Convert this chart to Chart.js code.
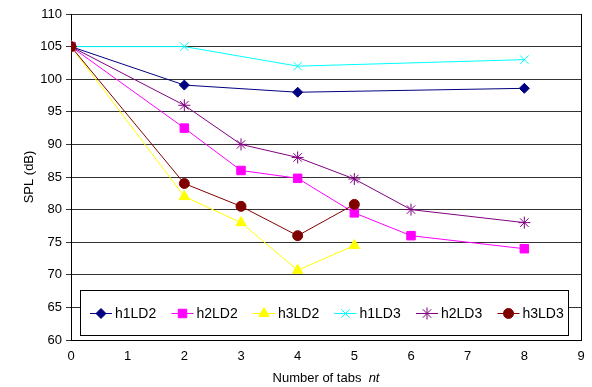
<!DOCTYPE html>
<html><head><meta charset="utf-8">
<script src="https://cdn.jsdelivr.net/npm/chart.js@4/dist/chart.umd.min.js"></script>
<style>html,body{margin:0;padding:0;background:#fff}#wrap{width:592px;height:387px}</style>
</head><body><div id="wrap"><canvas id="c"></canvas></div>
<script>
const seriesNames = ["h1LD2","h2LD2","h3LD2","h1LD3","h2LD3","h3LD3"];
const h1LD2_x = [0,2,4,8];           const h1LD2_y = [105,99.1,98,98.6];
const h2LD2_x = [0,2,3,4,5,6,8];     const h2LD2_y = [105,92.5,86,84.8,79.5,76,74];
const h3LD2_x = [0,2,3,4,5];         const h3LD2_y = [105,82,78,70.7,74.5];
const h1LD3_x = [0,2,4,8];           const h1LD3_y = [105,105,102,103];
const h2LD3_x = [0,2,3,4,5,6,8];     const h2LD3_y = [105,96,90,88,84.7,80,78];
const h3LD3_x = [0,2,3,4,5];         const h3LD3_y = [105,84,80.5,76,80.8];
const xTicks = [0,1,2,3,4,5,6,7,8,9];
const yTicks = [60,65,70,75,80,85,90,95,100,105,110];

const FONT = "'Liberation Sans', Arial, sans-serif";
function pts(xs, ys){ return xs.map((x,i)=>({x:x,y:ys[i]})); }
const styles = [
  {color:'#000080', pointStyle:'rectRot', r:5},
  {color:'#FF00FF', pointStyle:'rect', r:6},
  {color:'#FFFF00', pointStyle:'triangle', r:6},
  {color:'#00FFFF', pointStyle:'crossRot', r:6},
  {color:'#800080', pointStyle:'star', r:6},
  {color:'#800000', pointStyle:'circle', r:5}
];
const allData = [pts(h1LD2_x,h1LD2_y),pts(h2LD2_x,h2LD2_y),pts(h3LD2_x,h3LD2_y),pts(h1LD3_x,h1LD3_y),pts(h2LD3_x,h2LD3_y),pts(h3LD3_x,h3LD3_y)];
const datasets = seriesNames.map((n,i)=>({
  label:n, data:allData[i], borderColor:styles[i].color, backgroundColor:styles[i].color,
  borderWidth:1, pointStyle:styles[i].pointStyle, pointRadius:styles[i].r, pointHoverRadius:styles[i].r,
  pointBorderWidth:1, tension:0, fill:false, order: seriesNames.length - 1 - i
}));

const decor = {
  id:'decor',
  afterDraw(chart){
    const ctx = chart.ctx, a = chart.chartArea;
    ctx.save();
    ctx.strokeStyle='#000'; ctx.lineWidth=1;
    ctx.beginPath(); ctx.moveTo(Math.round(a.right)+0.5,a.top); ctx.lineTo(Math.round(a.right)+0.5,a.bottom); ctx.stroke();
    // legend box
    const bx=80, by=290, bw=488, bh=45;
    ctx.fillStyle='#fff'; ctx.fillRect(bx,by,bw,bh);
    ctx.strokeStyle='#000'; ctx.lineWidth=1;
    ctx.strokeRect(bx+0.5,by+0.5,bw,bh);
    const cy = 313;
    const list = seriesNames.map(n => chart.data.datasets.find(d => d.label === n));
    list.forEach((ds,i)=>{
      const x0 = 90 + i*81.5;
      ctx.strokeStyle = ds.borderColor; ctx.fillStyle = ds.backgroundColor; ctx.lineWidth=1;
      ctx.beginPath(); ctx.moveTo(x0,cy+0.5); ctx.lineTo(x0+22,cy+0.5); ctx.stroke();
      Chart.helpers.drawPoint(ctx,{pointStyle:ds.pointStyle,radius:ds.pointRadius,borderWidth:1,rotation:0},x0+11,cy+0.5);
      ctx.fillStyle='#000';
      ctx.font = "14px " + FONT; ctx.textBaseline='middle'; ctx.textAlign='left';
      ctx.fillText(ds.label, x0+25, cy+1);
    });
    // x title
    ctx.fillStyle='#000'; ctx.textBaseline='middle';
    ctx.font = "13px " + FONT;
    ctx.textAlign='left';
    const t1 = "Number of tabs  ";
    const w1 = ctx.measureText(t1).width;
    ctx.font = "italic 13px " + FONT;
    const w2 = ctx.measureText("nt").width;
    const sx = (a.left+a.right)/2 - (w1+w2)/2;
    ctx.font = "13px " + FONT; ctx.fillText(t1, sx, 378);
    ctx.font = "italic 13px " + FONT; ctx.fillText("nt", sx+w1, 378);
    // y title
    ctx.font = "13px " + FONT; ctx.textAlign='center';
    ctx.translate(29,177); ctx.rotate(-Math.PI/2); ctx.fillText("SPL (dB)",0,0);
    ctx.restore();
  }
};

new Chart(document.getElementById('c'),{
  type:'line',
  data:{datasets:datasets},
  options:{
    responsive:true, maintainAspectRatio:false, animation:false,
    layout:{padding:{top:14,right:11,left:0,bottom:0}},
    plugins:{legend:{display:false}, tooltip:{enabled:false}},
    scales:{
      x:{type:'linear', min:0, max:9,
        afterBuildTicks(s){ s.ticks = xTicks.map(v=>({value:v})); },
        afterFit(s){ s.height = 47; },
        grid:{display:false, drawOnChartArea:false, drawTicks:true, tickLength:5, color:'#000'},
        border:{display:true,color:'#000',width:1},
        ticks:{color:'#000', font:{family:FONT,size:13}, padding:4, maxRotation:0}
      },
      y:{type:'linear', min:60, max:110,
        afterBuildTicks(s){ s.ticks = yTicks.map(v=>({value:v})); },
        afterFit(s){ s.width = 71; s.paddingTop = 0; s.paddingBottom = 0; },
        grid:{display:true, color:'#333', lineWidth:1, drawTicks:true, tickLength:5},
        border:{display:true,color:'#000',width:1},
        ticks:{color:'#000', font:{family:FONT,size:13}, padding:4}
      }
    }
  },
  plugins:[decor]
});
</script></body></html>
